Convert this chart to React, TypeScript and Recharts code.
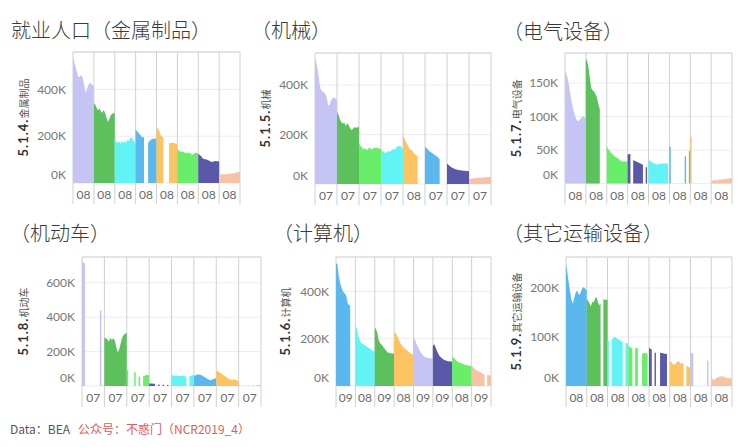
import React from 'react';
import { AreaChart, Area, XAxis, YAxis, CartesianGrid, ReferenceLine } from 'recharts';

const _ = null;

// colours
const LAV = '#c5c4f4';
const GRN = '#5cc05c';
const CYN = '#62f4f4';
const BLU = '#5ab8ef';
const ORG = '#fbc361';
const LGN = '#68ee68';
const NAV = '#5a58a8';
const PCH = '#f6c3a7';

// ---- 5.1.4 金属制品 (values in K) ----
const metalLabels = ['08', '08', '08', '08', '08', '08', '08', '08'];
const metalTicks = [0, 200000, 400000];
const metalSeries = [
  [536, 515, 495, 470, 452, 455, 462, 448, 420, 385, 400, 418, 428, 425, 418, 415],
  [342, 335, 322, 310, 318, 308, 300, 312, 300, 280, 262, 270, 288, 296, 298, 298],
  [188, 175, 172, 180, 168, 182, 170, 180, 172, 185, 178, 190, 196, 188, 175, 172],
  [228, 222, 215, 208, 200, 195, 198, _, _, 172, 180, 185, 188, 190, 190, 190],
  [236, 232, 222, 205, 198, 196, _, _, _, 168, 172, 172, 171, 170, 168, 168],
  [146, 140, 135, 132, 136, 128, 131, 126, 130, 128, 124, 120, 126, 130, 128, 126],
  [126, 120, 115, 106, 103, 102, 100, 98, 94, 92, 90, 92, 94, 93, 93, 93],
  [30, 35, 38, 37, 36, 38, 40, 39, 40, 42, 41, 43, 44, 46, 47, 48],
];

// ---- 5.1.5 机械 ----
const machLabels = ['07', '07', '07', '07', '08', '07', '07', '07'];
const machTicks = [0, 200000, 400000];
const machSeries = [
  [510, 490, 455, 410, 380, 375, 370, 365, 350, 318, 320, 340, 348, 350, 345, 342],
  [292, 280, 262, 250, 245, 248, 235, 246, 238, 225, 218, 225, 230, 228, 230, 230],
  [163, 155, 148, 140, 146, 138, 140, 150, 142, 140, 148, 146, 147, 145, 144, 144],
  [136, 132, 130, 124, 128, 134, 130, 136, 142, 138, 146, 150, 154, 156, 148, 140],
  [197, 185, 170, 160, 148, 140, 138, 128, 120, 116, 112, _, _, _, _, _],
  [150, 146, 140, 132, 128, 124, 120, 115, 112, 106, 100, _, _, _, _, _],
  [82, 78, 72, 68, 65, 62, 60, 58, 57, 56, 55, 54, 54, 53, 53, 52],
  [20, 21, 22, 22, 23, 24, 24, 25, 25, 26, 26, 27, 27, 28, 28, 28],
];

// ---- 5.1.7 电气设备 ----
const elecLabels = ['08', '08', '08', '08', '08', '08', '08', '08'];
const elecTicks = [0, 50000, 100000, 150000];
const elecSeries = [
  [167, 164, 156, 145, 130, 120, 110, 103, 96, 93, 94, 96, 99, 100, 99, 98],
  [187, 182, 172, 155, 142, 139, 137, 133, 128, 118, 111, _, _, _, _, _],
  [56, 52, 49, 46, 44, 42, 40, 39, 38, 36, 34, 33, 33, 33, 33, 33],
  [43, 44, 44, _, 35, 34, 33, 32, 31, 30, 29, 28, _, 25, 24, _],
  [35, 34, 33, 31, 30, 29, 28, 29, 29, 30, 30, 30, 30, 30, 30, _],
  [56, 54, _, _, _, _, _, _, _, _, _, 40, 41, _, 48, 50],
  [72, 68, _, _, _, _, _, _, _, _, _, _, _, _, _, _],
  [4, 4, 5, 5, 5, 5, 6, 6, 6, 6, 7, 7, 7, 8, 8, 8],
];

// ---- 5.1.8 机动车 ----
const autoLabels = ['07', '07', '07', '07', '07', '07', '07', '07'];
const autoTicks = [0, 200000, 400000, 600000];
const autoSeries = [
  [726, 718, 712, _, _, _, _, _, _, _, _, _, 440, 438, _, _],
  [282, 278, 270, 259, 280, 268, 278, 265, 225, 195, 215, 250, 282, 298, 305, 308],
  [93, 92, _, _, _, 81, 80, _, 54, 54, _, 59, 60, 64, 64, 62],
  [15, 15, 14, 13, 12, _, 8, 8, _, 7, 7, _, 6, 6, _, _],
  [62, 62, 60, 60, 60, 58, 58, 58, 58, 56, 55, _, 56, 58, 62, 64],
  [58, 62, 66, 68, 66, 64, 58, 52, 48, 42, 38, 34, 36, 40, 44, 46],
  [88, 86, 80, 75, 70, 62, 56, 50, 44, 40, 36, 36, 38, 36, 34, 20],
  [8, 6, _, 5, 5, _, 4, 4, _, 5, 5, _, 6, 6, 6, 8],
];

// ---- 5.1.6 计算机 ----
const compLabels = ['09', '08', '09', '08', '09', '09', '08', '09'];
const compTicks = [0, 200000, 400000];
const compSeries = [
  [518, 515, 470, 440, 420, 405, 395, 390, 380, 350, 342, 340, _, _, _, _],
  [253, 245, 215, 200, 185, 180, 176, 173, 170, 166, 162, 158, 154, 150, 148, 145],
  [249, 240, 225, 195, 182, 176, 170, 162, 155, 148, 142, 140, 138, 137, 137, 136],
  [226, 225, 215, 205, 190, 180, 172, 165, 160, 155, 150, 145, 140, 136, 134, 133],
  [205, 200, 182, 170, 158, 148, 140, 132, 126, 122, 120, 118, 117, 117, 116, 116],
  [170, 176, 165, 150, 138, 128, 122, 117, 113, 110, 108, 106, 105, 104, 103, 102],
  [122, 120, 115, 108, 104, 100, 98, 96, 94, 92, 90, 89, 88, 86, 85, 85],
  [84, 80, 75, 70, 66, 63, 60, 57, 55, 52, 50, _, 48, 46, 44, 42],
];

// ---- 5.1.9 其它运输设备 ----
const transLabels = ['08', '08', '08', '08', '08', '08', '08', '08'];
const transTicks = [0, 100000, 200000];
const transSeries = [
  [250, 231, 210, 192, 175, 168, 180, 190, 195, 188, 186, 194, 200, 202, 198, 195],
  [177, 174, 168, 162, 172, 170, 178, 182, 172, 164, 168, _, 178, 176, 176, 176],
  [95, 90, _, 94, 98, 100, 99, 97, 95, 93, 91, 90, _, 88, 87, 86],
  [82, 80, 78, 76, _, 78, 78, 76, _, _, 66, 67, 68, 67, 66, _],
  [78, 76, 74, _, 68, 68, _, _, 68, 68, 67, 66, 66, 65, _, _],
  [52, 49, 46, 43, 45, 48, 51, 49, 46, 47, 44, _, 42, 40, 38, 36],
  [68, 68, 66, _, _, _, _, _, _, _, _, _, 52, 52, _, _],
  [18, 14, 12, 15, 17, 18, 19, 20, 20, 19, 18, 17, 16, 17, 16, 15],
];

const panels = [
  { title: '就业人口（金属制品）', num: '5.1.4.', name: '金属制品', labels: metalLabels, ticks: metalTicks, series: metalSeries,
    colors: [LAV, GRN, CYN, BLU, ORG, LGN, NAV, PCH], max: 560000,
    l: 73, r: 240, t: 52, b: 183, tx: 11, ty: 37.5, yx: 23 },
  { title: '（机械）', num: '5.1.5.', name: '机械', labels: machLabels, ticks: machTicks, series: machSeries,
    colors: [LAV, GRN, LGN, CYN, ORG, BLU, NAV, PCH], max: 530000,
    l: 315, r: 491, t: 53, b: 184, tx: 251, ty: 37.5, yx: 265 },
  { title: '（电气设备）', num: '5.1.7.', name: '电气设备', labels: elecLabels, ticks: elecTicks, series: elecSeries,
    colors: [LAV, GRN, LGN, NAV, CYN, BLU, ORG, PCH], max: 195000,
    l: 565, r: 732, t: 53, b: 183.5, tx: 503, ty: 39, yx: 516 },
  { title: '（机动车）', num: '5.1.8.', name: '机动车', labels: autoLabels, ticks: autoTicks, series: autoSeries,
    colors: [LAV, GRN, LGN, NAV, CYN, BLU, ORG, PCH], max: 750000,
    l: 82, r: 261, t: 257, b: 386, tx: 10, ty: 241, yx: 23 },
  { title: '（计算机）', num: '5.1.6.', name: '计算机', labels: compLabels, ticks: compTicks, series: compSeries,
    colors: [BLU, CYN, GRN, ORG, LAV, NAV, LGN, PCH], max: 545000,
    l: 336, r: 491, t: 257, b: 386, tx: 273, ty: 241, yx: 285 },
  { title: '（其它运输设备）', num: '5.1.9.', name: '其它运输设备', labels: transLabels, ticks: transTicks, series: transSeries,
    colors: [BLU, GRN, CYN, LGN, NAV, ORG, LAV, PCH], max: 263000,
    l: 566, r: 732, t: 257, b: 386, tx: 503, ty: 241, yx: 516 },
];

const TICK_FONT = 'Lato, "Noto Sans", sans-serif';
const CJK_FONT = '"Noto Sans CJK SC", "Noto Sans", sans-serif';
const COL_LINE = '#d0d0d0';

function Panel({ p }: { p: any }) {
  const axisW = 60;
  const plotW = p.r - p.l;
  const plotH = p.b - p.t;
  const colW = plotW / 8;
  const W = axisW + plotW + 2;
  const H = plotH + 2 + 22;
  const rows: any[] = [];
  p.series.forEach((vals: (number | null)[], c: number) => {
    vals.forEach((v, i) => {
      rows.push({ x: c + i / (vals.length - 1), ['s' + c]: v == null ? null : v * 1000 });
    });
  });
  const xTicks = [0, 1, 2, 3, 4, 5, 6, 7, 8];
  return (
    <div style={{ position: 'absolute', left: p.l - axisW, top: p.t - 2 }}>
      <AreaChart width={W} height={H} data={rows} margin={{ top: 2, right: 2, bottom: 0, left: 0 }}>
        <CartesianGrid horizontal={true} vertical={false} stroke="#ededed" />
        <CartesianGrid horizontal={false} vertical={true} stroke={COL_LINE} />
        <XAxis
          type="number"
          dataKey="x"
          domain={[0, 8]}
          ticks={xTicks}
          interval={0}
          height={22}
          axisLine={false}
          tickLine={false}
          tickSize={0}
          tickMargin={0}
          tick={(tp: any) => {
            const k = tp.payload.value;
            return (
              <g>
                <line x1={tp.x} x2={tp.x} y1={tp.y} y2={tp.y + 21} stroke={COL_LINE} />
                {k < 8 ? (
                  <text x={tp.x + colW / 2} y={tp.y + 12} dy="0.35em" textAnchor="middle" fontSize={12}
                    fill="#6a6a6a" fontFamily={TICK_FONT}>{p.labels[k]}</text>
                ) : null}
              </g>
            );
          }}
        />
        <YAxis
          type="number"
          domain={[0, p.max]}
          ticks={p.ticks}
          width={axisW}
          axisLine={false}
          tickLine={false}
          tickSize={0}
          tickMargin={7}
          tick={(tp: any) => (
            <text x={tp.x} y={tp.y + (tp.payload.value === 0 ? -8.5 : 0)} dy="0.35em" textAnchor="end"
              fontSize={12} fill="#777" fontFamily={TICK_FONT}>
              {Math.round(tp.payload.value / 1000) + 'K'}
            </text>
          )}
        />
        <ReferenceLine y={p.max} stroke={COL_LINE} />
        {p.series.map((s: any, c: number) => (
          <Area
            key={'s' + c}
            dataKey={'s' + c}
            type="linear"
            stroke="none"
            fill={p.colors[c]}
            fillOpacity={1}
            dot={false}
            activeDot={false}
            connectNulls={false}
            isAnimationActive={false}
          />
        ))}
      </AreaChart>
    </div>
  );
}

export default function App() {
  return (
    <div style={{ position: 'absolute', left: 0, top: 0, width: 743, height: 447, background: '#fff', overflow: 'hidden' }}>
      {panels.map((p, i) => <Panel key={i} p={p} />)}
      <svg width={743} height={447} style={{ position: 'absolute', left: 0, top: 0, pointerEvents: 'none' }}>
        {panels.map((p, i) => (
          <g key={i}>
            <text x={p.tx} y={p.ty} fontSize={20} fontWeight={300} fill="#3a3a3a" fontFamily={CJK_FONT}>{p.title}</text>
            <text transform={`translate(${p.yx + 4.5},${(p.t + p.b) / 2}) rotate(-90)`} textAnchor="middle">
              <tspan fontSize={13} fontWeight={700} fill="#333" letterSpacing={1} fontFamily={TICK_FONT}>{p.num}</tspan>
              <tspan fontSize={10} fill="#555" fontFamily={CJK_FONT}>{p.name}</tspan>
            </text>
          </g>
        ))}
        <text x={10} y={434} fontSize={12} fill="#555" fontFamily={CJK_FONT}>Data：BEA</text>
        <text x={78} y={434} fontSize={12} fill="#e05a5a" fontFamily={CJK_FONT}>公众号：不惑门（NCR2019_4）</text>
      </svg>
    </div>
  );
}
